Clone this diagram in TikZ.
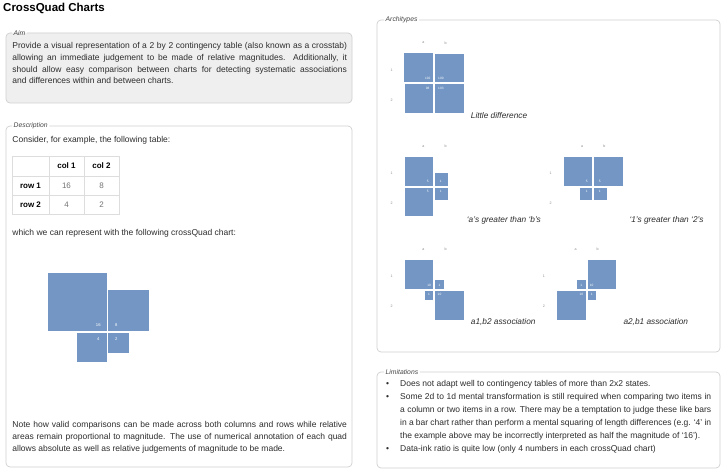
\documentclass[tikz,border=0pt]{standalone}
\usepackage{fontspec}
\setmainfont{Liberation Sans}
\definecolor{quad}{RGB}{115,150,196}
\definecolor{boxline}{RGB}{208,208,208}
\definecolor{aimfill}{RGB}{239,239,239}
\definecolor{txt}{RGB}{45,45,45}
\definecolor{legendc}{RGB}{70,70,70}
\definecolor{tickc}{RGB}{140,140,140}
\definecolor{gridc}{RGB}{221,221,221}
\newcommand\jline[2]{\makebox[#1][s]{#2}}
\def\cqg{1}
\newcommand\cqsquares[6]{%
  \fill[quad] ({#1-\cqg-#3},{#2-\cqg-#3}) rectangle ({#1-\cqg},{#2-\cqg});
  \fill[quad] ({#1+\cqg},{#2-\cqg-#4}) rectangle ({#1+\cqg+#4},{#2-\cqg});
  \fill[quad] ({#1-\cqg-#5},{#2+\cqg}) rectangle ({#1-\cqg},{#2+\cqg+#5});
  \fill[quad] ({#1+\cqg},{#2+\cqg}) rectangle ({#1+\cqg+#6},{#2+\cqg+#6});}
\newcommand\cqvals[9]{%
  \node[qval] (#1a1) at ({#2-#4},{#3-#5}) {#6};
  \node[qval] (#1b1) at ({#2+#4},{#3-#5}) {#7};
  \node[qval] (#1a2) at ({#2-#4},{#3+#5}) {#8};
  \node[qval] (#1b2) at ({#2+#4},{#3+#5}) {#9};}
\newcommand\cqaxes[3]{%
  \node[qtick] (#1ca) at ({#2-11},{#3-40.3}) {a};
  \node[qtick] (#1cb) at ({#2+11.2},{#3-40.3}) {b};
  \node[qtick] (#1r1) at ({#2-42.6},{#3-13.4}) {1};
  \node[qtick] (#1r2) at ({#2-42.6},{#3+16.6}) {2};}
\begin{document}
\begin{tikzpicture}[x=1pt,y=-1pt,
  body/.style={inner sep=0pt, anchor=base west, text=txt, font=\fontsize{8.5}{11}\selectfont},
  legendlbl/.style={inner sep=1.5pt, anchor=west, text=legendc, font=\fontsize{6.8}{8}\selectfont\itshape},
  boxborder/.style={draw=boxline, line width=0.7pt, rounded corners=4pt},
  caption/.style={inner sep=0pt, anchor=base west, text=txt, font=\fontsize{8.3}{10}\selectfont\itshape},
  qval/.style={inner sep=0pt, text=white, font=\fontsize{3.2}{4}\selectfont},
  qtick/.style={inner sep=0pt, text=tickc, font=\fontsize{3.6}{4}\selectfont},
  cell/.style={inner sep=0pt, font=\fontsize{8}{10}\selectfont},
]
\useasboundingbox (0,0) rectangle (723,470);
\fill[white] (0,0) rectangle (723,470);

% Title
\node[inner sep=0pt, anchor=base west, text=black, font=\fontsize{11.5}{14}\selectfont\bfseries] (title) at (3,11.5) {CrossQuad Charts};

% Aim box
\fill[aimfill, rounded corners=4pt] (6,33) rectangle (352,103);
\node[legendlbl] (aimlbl) at (12,33) {Aim};
\draw[boxborder] (aimlbl.east) -- (352,33) -- (352,103) -- (6,103) -- (6,33) -- (aimlbl.west);
\node[body] (aim1) at (12.3,48.5) {\jline{334.5pt}{Provide a visual representation of a 2 by 2 contingency table (also known as a crosstab)}};
\node[body] (aim2) at (12.3,60.3) {\jline{334.5pt}{allowing an immediate judgement to be made of relative magnitudes. Additionally, it}};
\node[body] (aim3) at (12.3,72.2) {\jline{334.5pt}{should allow easy comparison between charts for detecting systematic associations}};
\node[body] (aim4) at (12.3,84) {and differences within and between charts.};

% Description box
\node[legendlbl] (desclbl) at (12,126) {Description};
\draw[boxborder] (desclbl.east) -- (352,126) -- (352,467) -- (6,467) -- (6,126) -- (desclbl.west);
\node[body] (cons) at (12.3,142.5) {Consider, for example, the following table:};

% Table
\draw[gridc, line width=0.6pt] (12,156) rectangle (119,214);
\draw[gridc, line width=0.6pt] (49,156) -- (49,214) (84,156) -- (84,214) (12,176) -- (119,176) (12,195.5) -- (119,195.5);
\node[cell, font=\fontsize{8}{10}\selectfont\bfseries] (hc1) at (66.5,166) {col 1};
\node[cell, font=\fontsize{8}{10}\selectfont\bfseries] (hc2) at (101.5,166) {col 2};
\node[cell, font=\fontsize{8}{10}\selectfont\bfseries] (hr1) at (30.5,185.7) {row 1};
\node[cell, font=\fontsize{8}{10}\selectfont\bfseries] (hr2) at (30.5,204.7) {row 2};
\node[cell, text=gray!90!black] (v11) at (66.5,185.7) {16};
\node[cell, text=gray!90!black] (v12) at (101.5,185.7) {8};
\node[cell, text=gray!90!black] (v21) at (66.5,204.7) {4};
\node[cell, text=gray!90!black] (v22) at (101.5,204.7) {2};

\node[body] (which) at (12.3,235.5) {which we can represent with the following crossQuad chart:};

% Main crossquad chart
\def\cqg{0.8}
\cqsquares{107.3}{331.8}{58.4}{41.3}{29.2}{20.6}
\begin{scope}[qval/.append style={font=\fontsize{4.2}{5}\selectfont}]
\cqvals{m}{107.3}{331.8}{9}{7}{16}{8}{4}{2}
\end{scope}
\def\cqg{1}

\node[body] (note1) at (12.3,427.5) {\jline{334.5pt}{Note how valid comparisons can be made across both columns and rows while relative}};
\node[body] (note2) at (12.3,439.3) {\jline{334.5pt}{areas remain proportional to magnitude. The use of numerical annotation of each quad}};
\node[body] (note3) at (12.3,451) {allows absolute as well as relative judgements of magnitude to be made.};

% Architypes box
\node[legendlbl] (archlbl) at (384,20) {Architypes};
\draw[boxborder] (archlbl.east) -- (720,20) -- (720,352) -- (377,352) -- (377,20) -- (archlbl.west);

% Chart 1: little difference
\cqsquares{434.3}{83.3}{28.9}{28.6}{28.3}{29}
\cqvals{c1}{434.3}{83.3}{6.6}{5.3}{102}{100}{98}{103}
\cqaxes{c1}{434.3}{83.3}
\node[caption] (cap1) at (470.7,118.5) {Little difference};

% Chart 2: a's greater than b's
\cqsquares{434.3}{186.7}{28.4}{12.7}{28.4}{12.7}
\cqvals{c2}{434.3}{186.7}{6.5}{5}{5}{1}{5}{1}
\cqaxes{c2}{434.3}{186.7}
\node[caption] (cap2) at (466.7,222.5) {`a's greater than `b's};

% Chart 3: 1's greater than 2's
\cqsquares{593.2}{186.7}{28.4}{28.4}{12.7}{12.7}
\cqvals{c3}{593.2}{186.7}{6.5}{5}{5}{5}{1}{1}
\cqaxes{c3}{593.2}{186.7}
\node[caption] (cap3) at (629.3,222.5) {`1's greater than `2's};

% Chart 4: a1,b2 association
\cqsquares{434.3}{290}{28.7}{8.7}{8.7}{28.7}
\cqvals{c4}{434.3}{290}{5.2}{4.8}{10}{1}{1}{10}
\cqaxes{c4}{434.3}{290}
\node[caption] (cap4) at (470.7,324.8) {a1,b2 association};

% Chart 5: a2,b1 association
\cqsquares{586.5}{290}{8.7}{28.7}{28.7}{8.7}
\cqvals{c5}{586.5}{290}{5.2}{4.8}{1}{10}{10}{1}
\cqaxes{c5}{586.5}{290}
\node[caption] (cap5) at (623.3,324.8) {a2,b1 association};

% Limitations box
\node[legendlbl] (limlbl) at (384,372) {Limitations};
\draw[boxborder] (limlbl.east) -- (720,372) -- (720,468) -- (377,468) -- (377,372) -- (limlbl.west);
\node[body] (bul1) at (386,386) {\textbullet};
\node[body] (lim1) at (400,386) {Does not adapt well to contingency tables of more than 2x2 states.};
\node[body] (bul2) at (386,399) {\textbullet};
\node[body] (lim2) at (400,399) {\jline{311pt}{Some 2d to 1d mental transformation is still required when comparing two items in}};
\node[body] (lim3) at (400,412) {\jline{311pt}{a column or two items in a row. There may be a temptation to judge these like bars}};
\node[body] (lim4) at (400,425) {\jline{311pt}{in a bar chart rather than perform a mental squaring of length differences (e.g. `4' in}};
\node[body] (lim5) at (400,438) {the example above may be incorrectly interpreted as half the magnitude of `16').};
\node[body] (bul3) at (386,451) {\textbullet};
\node[body] (lim6) at (400,451) {Data-ink ratio is quite low (only 4 numbers in each crossQuad chart)};
\end{tikzpicture}
\end{document}
